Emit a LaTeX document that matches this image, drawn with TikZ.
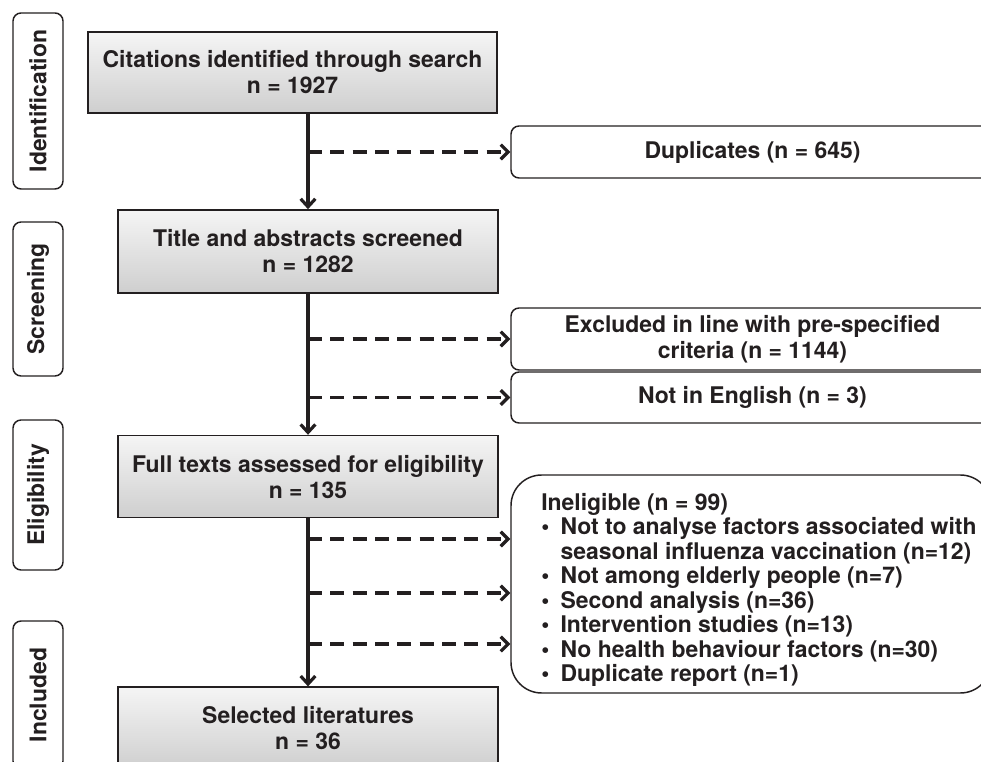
\documentclass[tikz,border=0pt]{standalone}
\usepackage{fontspec}
\setmainfont{TeX Gyre Heros}
\usetikzlibrary{positioning, arrows.meta}
\definecolor{ink}{HTML}{231F20}
\tikzset{
	flowbox/.style = {draw=ink, line width=1.2pt, top color=gray!8, bottom color=gray!38, align=center, minimum height=61.5pt},
	sidebox/.style = {draw=ink, line width=1.1pt, fill=white, rounded corners=6pt, align=center, minimum width=362.25pt},
	flow/.style = {draw=ink, line width=3pt, -{Straight Barb[length=6pt,width=11pt,line width=2.4pt]}},
	branch/.style = {draw=ink, line width=2.4pt, dash pattern=on 10.5pt off 6.25pt, -{Straight Barb[length=5.5pt,width=11pt,line width=2.4pt]}}
}

\begin{document}
\begin{tikzpicture}[
		x=0.75pt, y=-0.75pt,
		font=\fontsize{17.2}{19.5}\selectfont\bfseries,
		text=ink,
		stage/.style={draw=ink, line width=1.1pt, rounded corners=6pt, fill=white, rotate=90, minimum height=37.5pt},
		node distance=105.75pt % Abstand zwischen den Boxen
		]
		\useasboundingbox (0,0) rectangle (981,762);
		\clip (0,0) rectangle (981,762);

		% Phasen links
		\node[stage, minimum width=132pt] (ident) at (38,101) {Identification};
		\node[stage, minimum width=115.5pt] (screen) at (38,299) {Screening};
		\node[stage, minimum width=112.5pt] (elig) at (38,495) {Eligibility};
		\node[stage, minimum width=111pt] (incl) at (38,695) {Included};

		% Hauptboxen
		\node[flowbox, minimum width=306.75pt, minimum height=60.75pt] (cit) at (292.5,72.5) {Citations identified through search\\n = 1927};
		\node[flowbox, minimum width=285pt, minimum height=62.25pt] (tit) at (308,251.5) {Title and abstracts screened\\n = 1282};
		\node[flowbox, minimum width=285pt, below=of tit] (full) {Full texts assessed for eligibility\\n = 135};
		\node[flowbox, minimum width=285pt, below=126pt of full] (sel) {Selected literatures\\n = 36};

		% Ausschluss rechts
		\node[sidebox, minimum height=39pt] (dup) at (752.5,152) {Duplicates (n = 645)};
		\node[sidebox, minimum height=46.5pt] (excl) at (752.5,339) {Excluded in line with pre-specified\\criteria (n = 1144)};
		\node[sidebox, minimum height=38.25pt] (eng) at (752.5,397.5) {Not in English (n = 3)};
		\node[sidebox, rounded corners=23pt, minimum width=360pt, minimum height=163.5pt] (inel) at (751,584) {};
		\node[anchor=base west, inner sep=0pt, font=\fontsize{17.2}{18.4}\selectfont\bfseries] (inellist) at (541,510) {%
			\begin{tabular}[t]{@{}p{14.5pt}@{}l@{}}
				\multicolumn{2}{@{}l@{}}{Ineligible (n = 99)}\\
				\textbullet & Not to analyse factors associated with\\
				& seasonal influenza vaccination (n=12)\\
				\textbullet & Not among elderly people (n=7)\\
				\textbullet & Second analysis (n=36)\\
				\textbullet & Intervention studies (n=13)\\
				\textbullet & No health behaviour factors (n=30)\\
				\textbullet & Duplicate report (n=1)
			\end{tabular}};

		% Pfeile
		\draw[flow] (cit.south -| tit.north) -- (tit.north);
		\draw[flow] (tit.south) -- (full.north);
		\draw[flow] (full.south) -- (sel.north);

		\draw[branch] (tit.north |- dup.west) -- (dup.west);
		\draw[branch] (tit.south |- excl.west) -- (excl.west);
		\draw[branch] (tit.south |- eng.west) -- (eng.west);
		\coordinate (b1) at (308,539);
		\coordinate (b2) at (308,593);
		\coordinate (b3) at (308,644);
		\foreach \b in {b1,b2,b3}
			\draw[branch] (\b) -- (\b -| inel.west);
	\end{tikzpicture}
\end{document}
